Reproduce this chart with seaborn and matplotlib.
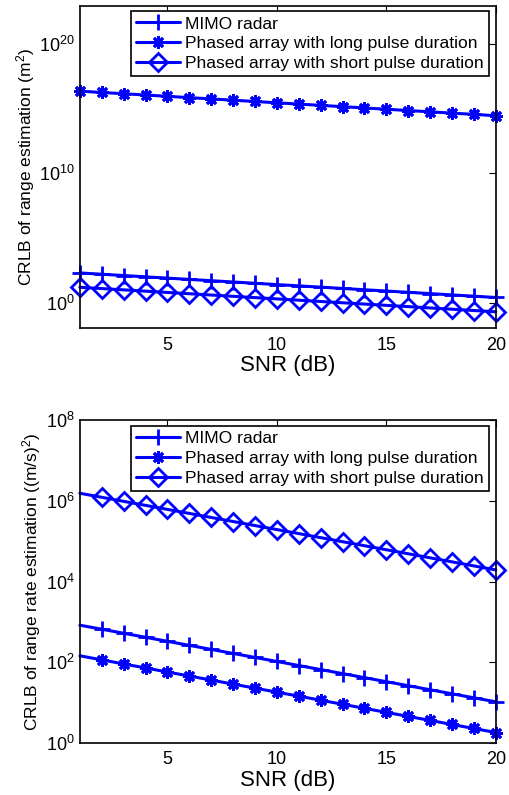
import matplotlib
matplotlib.use("Agg")
import matplotlib.pyplot as plt
import seaborn as sns
import pandas as pd

snr = list(range(1, 21))
names = ["MIMO radar",
         "Phased array with long pulse duration",
         "Phased array with short pulse duration"]

# range estimation CRLB (m^2)
range_mimo = [195, 155, 123, 97.7, 77.6, 61.7, 49.0, 38.9, 30.9, 24.5,
              19.5, 15.5, 12.3, 9.77, 7.76, 6.17, 4.90, 3.89, 3.09, 2.45]
range_long = [2.34e16, 1.86e16, 1.48e16, 1.18e16, 9.33e15, 7.41e15, 5.89e15,
              4.68e15, 3.72e15, 2.95e15, 2.34e15, 1.86e15, 1.48e15, 1.18e15,
              9.33e14, 7.41e14, 5.89e14, 4.68e14, 3.72e14, 2.95e14]
range_short = [15.1, 12.0, 9.55, 7.59, 6.03, 4.79, 3.80, 3.02, 2.40, 1.91,
               1.51, 1.20, 0.955, 0.759, 0.603, 0.479, 0.380, 0.302, 0.240, 0.191]

# range rate estimation CRLB ((m/s)^2)
rate_mimo = [832, 661, 525, 417, 331, 263, 209, 166, 132, 105,
             83.2, 66.1, 52.5, 41.7, 33.1, 26.3, 20.9, 16.6, 13.2, 10.5]
rate_long = [145, 115, 91.2, 72.4, 57.5, 45.7, 36.3, 28.8, 22.9, 18.2,
             14.5, 11.5, 9.12, 7.24, 5.75, 4.57, 3.63, 2.88, 2.29, 1.82]
rate_short = [1.55e6, 1.23e6, 9.77e5, 7.76e5, 6.17e5, 4.90e5, 3.89e5, 3.09e5,
              2.45e5, 1.95e5, 1.55e5, 1.23e5, 9.77e4, 7.76e4, 6.17e4, 4.90e4,
              3.89e4, 3.09e4, 2.45e4, 1.95e4]

markers = ["+", (8, 2, 0), "D"]
msizes = [11, 9, 9]
blue = "#0000ff"


def draw(ax, series, markevery, ylim, yticks, ylabel):
    for name, vals, m, ms in zip(names, series, markers, msizes):
        df = pd.DataFrame({"SNR": snr, "CRLB": vals})
        sns.lineplot(
            ax=ax, data=df, x="SNR", y="CRLB", color=blue, marker=m,
            markersize=ms, linewidth=2.2, mec=blue, mfc="none", mew=2,
            markevery=markevery, clip_on=False, label=name,
        )
    ax.set_yscale("log")
    ax.set_xlim(1, 20)
    ax.set_ylim(*ylim)
    ax.set_xticks([5, 10, 15, 20])
    ax.set_yticks(yticks)
    ax.minorticks_off()
    ax.tick_params(direction="in", top=True, right=True, length=5,
                   labelsize=13, width=0.8, colors="black")
    ax.tick_params(axis="x", pad=6)
    for s in ax.spines.values():
        s.set_color("black")
        s.set_linewidth(1.2)
    ax.set_xlabel("SNR (dB)", fontsize=16, labelpad=1, color="black")
    ax.set_ylabel(ylabel, fontsize=12.5, labelpad=2, color="black")
    leg = ax.legend(loc="upper right", fontsize=12.6,
                    frameon=True, fancybox=False, framealpha=1,
                    edgecolor="black", borderpad=0.28, labelspacing=0.26,
                    handlelength=2.5, handletextpad=0.3, borderaxespad=0,
                    bbox_to_anchor=(0.983, 0.982))
    leg.get_frame().set_linewidth(1.2)
    for t in leg.get_texts():
        t.set_color("black")


sns.set_theme(style="white")
plt.rcParams["font.family"] = ["Liberation Sans", "DejaVu Sans"]
plt.rcParams["mathtext.fontset"] = "custom"
plt.rcParams["mathtext.rm"] = "Liberation Sans"
plt.rcParams["mathtext.it"] = "Liberation Sans:italic"
plt.rcParams["text.color"] = "black"

fig = plt.figure(figsize=(5.09, 7.95), dpi=100)
ax1 = fig.add_axes([0.157, 0.587, 0.817, 0.406])
ax2 = fig.add_axes([0.157, 0.0654, 0.817, 0.406])

draw(ax1, [range_mimo, range_long, range_short], None,
     (1e-2, 1e23), [1e0, 1e10, 1e20],
     "CRLB of range estimation (m$^2$)")
draw(ax2, [rate_mimo, rate_long, rate_short], slice(1, None),
     (1e0, 1e8), [1e0, 1e2, 1e4, 1e6, 1e8],
     "CRLB of range rate estimation ((m/s)$^2$)")

fig.savefig("out.png", dpi=100)
